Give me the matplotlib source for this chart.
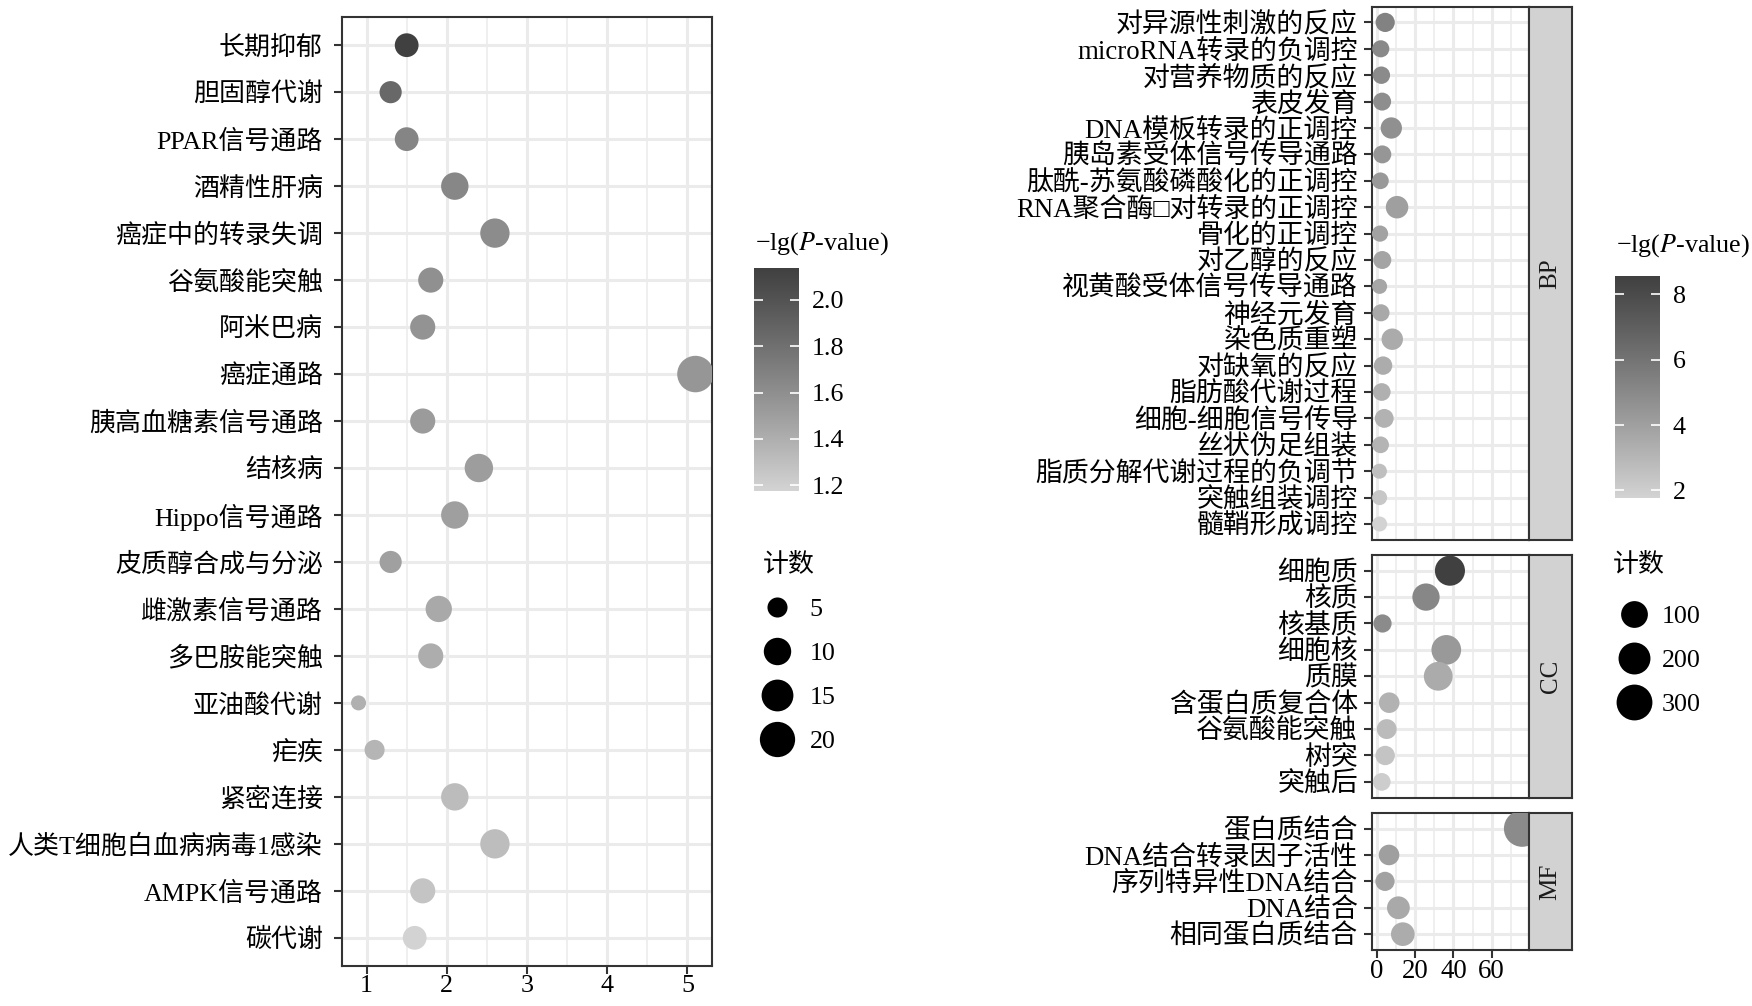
import numpy as np
import matplotlib
matplotlib.use("Agg")
import matplotlib.pyplot as plt
from matplotlib.colors import ListedColormap, Normalize
from matplotlib.cm import ScalarMappable
from matplotlib.lines import Line2D

plt.rcParams['font.family'] = ['Liberation Serif', 'Noto Sans CJK SC']
plt.rcParams['mathtext.fontset'] = 'stix'

W, H = 1752, 1006

# ---------------- KEGG (left) ----------------
kegg_terms = ["长期抑郁", "胆固醇代谢", "PPAR信号通路", "酒精性肝病", "癌症中的转录失调",
              "谷氨酸能突触", "阿米巴病", "癌症通路", "胰高血糖素信号通路", "结核病",
              "Hippo信号通路", "皮质醇合成与分泌", "雌激素信号通路", "多巴胺能突触", "亚油酸代谢",
              "疟疾", "紧密连接", "人类T细胞白血病病毒1感染", "AMPK信号通路", "碳代谢"]
kegg_x = [1.5, 1.3, 1.5, 2.1, 2.6, 1.8, 1.7, 5.1, 1.7, 2.4,
          2.1, 1.3, 1.9, 1.8, 0.9, 1.1, 2.1, 2.6, 1.7, 1.6]
kegg_count = [7, 6, 7, 10, 12, 8, 8, 22, 8, 11,
              10, 6, 9, 8, 4, 5, 10, 12, 8, 7]
kegg_lgp = [2.137, 1.85, 1.66, 1.65, 1.62, 1.59, 1.57, 1.55, 1.52, 1.51,
            1.50, 1.49, 1.43, 1.41, 1.39, 1.36, 1.32, 1.31, 1.27, 1.178]
kegg_size_legend = [5, 10, 15, 20]

# ---------------- GO (right) ----------------
bp_terms = ["对异源性刺激的反应", "microRNA转录的负调控", "对营养物质的反应", "表皮发育",
            "DNA模板转录的正调控", "胰岛素受体信号传导通路", "肽酰-苏氨酸磷酸化的正调控",
            "RNA聚合酶□对转录的正调控", "骨化的正调控", "对乙醇的反应", "视黄酸受体信号传导通路",
            "神经元发育", "染色质重塑", "对缺氧的反应", "脂肪酸代谢过程", "细胞-细胞信号传导",
            "丝状伪足组装", "脂质分解代谢过程的负调节", "突触组装调控", "髓鞘形成调控"]
bp_x = [4.4, 2.1, 2.4, 2.8, 7.6, 2.9, 1.9, 10.6, 1.7, 2.9,
        1.5, 2.2, 8.1, 3.3, 2.6, 3.9, 2.0, 1.4, 1.5, 1.5]
bp_count = [18, 9, 10, 12, 33, 12, 8, 44, 7, 12,
            6, 9, 34, 14, 11, 16, 8, 6, 6, 6]
bp_lgp = [5.3, 5.0, 4.9, 4.8, 4.7, 4.4, 4.3, 4.0, 3.9, 3.8,
          3.7, 3.6, 3.5, 3.45, 3.3, 3.2, 3.1, 2.6, 2.3, 1.77]

cc_terms = ["细胞质", "核质", "核基质", "细胞核", "质膜", "含蛋白质复合体", "谷氨酸能突触", "树突", "突触后"]
cc_x = [38.2, 25.7, 3.0, 36.3, 32.1, 6.5, 5.2, 4.4, 2.6]
cc_count = [160, 108, 13, 152, 135, 27, 22, 19, 11]
cc_lgp = [8.56, 5.1, 4.95, 4.3, 3.5, 3.2, 2.8, 2.4, 2.05]

mf_terms = ["蛋白质结合", "DNA结合转录因子活性", "序列特异性DNA结合", "DNA结合", "相同蛋白质结合"]
mf_x = [75.9, 6.4, 4.3, 11.3, 13.6]
mf_count = [319, 27, 18, 47, 57]
mf_lgp = [4.9, 4.0, 3.9, 3.6, 3.45]
go_size_legend = [100, 200, 300]

facets = [("BP", bp_terms, bp_x, bp_count, bp_lgp),
          ("CC", cc_terms, cc_x, cc_count, cc_lgp),
          ("MF", mf_terms, mf_x, mf_count, mf_lgp)]

GRID = '#ebebeb'
EDGE = '#333333'
TITLE = "\u2212lg($\\it{P}$-value)"


def grey_cmap():
    # grey ramp interpolated in L* like ggplot's gradient (lightgrey -> grey25)
    L = np.linspace(84.5, 27.1, 256)
    Y = ((L + 16) / 116) ** 3
    v = 1.055 * Y ** (1 / 2.4) - 0.055
    return ListedColormap(np.column_stack([v, v, v]))


CMAP = grey_cmap()


def dot_diam(c, cmin, cmax):
    c = np.asarray(c, dtype=float)
    return (15 + 21.5 * np.sqrt((c - cmin) / (cmax - cmin))) * 0.72  # points


def px_axes(fig, x0, y0, x1, y1):
    return fig.add_axes([x0 / W, 1 - y1 / H, (x1 - x0) / W, (y1 - y0) / H])


def expand(vals):
    lo, hi = min(vals), max(vals)
    pad = 0.05 * (hi - lo)
    return lo - pad, hi + pad


def dot_panel(ax, terms, x, count, lgp, norm, crange, xlim, major, minor, fs, ypad):
    y = np.arange(len(terms))
    d = dot_diam(count, *crange)
    ax.scatter(x, y, s=d ** 2, c=lgp, cmap=CMAP, norm=norm, linewidths=0, zorder=3)
    ax.set_yticks(y)
    ax.set_yticklabels(terms, fontsize=fs)
    ax.set_ylim(len(terms) - 0.4, -0.6)
    ax.set_xlim(xlim)
    ax.set_xticks(major)
    ax.set_xticks(minor, minor=True)
    ax.grid(which='major', color=GRID, lw=2.2)
    ax.grid(which='minor', axis='x', color=GRID, lw=1.1)
    ax.set_axisbelow(True)
    for s in ax.spines.values():
        s.set_color(EDGE)
        s.set_linewidth(1.5)
    ax.tick_params(which='major', length=5.5, width=1.5, color=EDGE, labelsize=fs)
    ax.tick_params(axis='y', pad=ypad)
    ax.tick_params(axis='x', pad=1)
    ax.tick_params(which='minor', length=0)


def color_legend(fig, norm, ticks, labels, box, title_y, fs):
    x0, y0, x1, y1 = box
    cax = px_axes(fig, x0, y0, x1, y1)
    cb = fig.colorbar(ScalarMappable(norm=norm, cmap=CMAP), cax=cax)
    cb.outline.set_visible(False)
    cb.set_ticks(ticks)
    cb.set_ticklabels(labels)
    cax.tick_params(length=0, pad=9, labelsize=fs)
    tr = cax.get_yaxis_transform()
    cax.hlines(ticks, 0, 0.2, transform=tr, colors='white', lw=1.2)
    cax.hlines(ticks, 0.8, 1, transform=tr, colors='white', lw=1.2)
    fig.text((x0 + 1) / W, 1 - title_y / H, TITLE, ha='left', va='center', fontsize=fs)


def size_legend(fig, vals, crange, x, title_x, title_y, top_y, fs, textpad):
    d = dot_diam(vals, *crange)
    handles = [Line2D([], [], ls='', marker='o', markersize=m, markerfacecolor='black',
                      markeredgewidth=0) for m in d]
    fig.text(title_x / W, 1 - title_y / H, "计数", ha='left', va='center', fontsize=fs)
    fig.legend(handles, [str(v) for v in vals], loc='upper left',
               bbox_to_anchor=(x / W, 1 - top_y / H), frameon=False, fontsize=fs,
               labelspacing=0.8, handlelength=1.35,
               handletextpad=textpad, borderpad=0, borderaxespad=0)


fig = plt.figure(figsize=(W / 100, H / 100), dpi=100)

# ---- left panel ----
kegg_norm = Normalize(min(kegg_lgp), max(kegg_lgp))
kegg_crange = (min(kegg_count), max(kegg_count))
ax = px_axes(fig, 341.7, 17, 712.3, 966)
dot_panel(ax, kegg_terms, kegg_x, kegg_count, kegg_lgp, kegg_norm, kegg_crange,
          expand(kegg_x), [1, 2, 3, 4, 5], [1.5, 2.5, 3.5, 4.5], 18.7, 8)
color_legend(fig, kegg_norm, [1.2, 1.4, 1.6, 1.8, 2.0], ["1.2", "1.4", "1.6", "1.8", "2.0"],
             (754.3, 268, 799.3, 490.5), 244, 18.7)
size_legend(fig, kegg_size_legend, kegg_crange, 759, 763, 565, 598, 18.7, 0.6)

# ---- right facets ----
all_lgp = bp_lgp + cc_lgp + mf_lgp
all_count = bp_count + cc_count + mf_count
go_norm = Normalize(min(all_lgp), max(all_lgp))
go_crange = (min(all_count), max(all_count))
go_xlim = expand(bp_x + cc_x + mf_x)

unit = 26.4
gap = 15
y = 950
spans = []
for name, terms, *_ in facets[::-1]:
    h = (len(terms) + 0.2) * unit
    spans.append((y - h, y))
    y = y - h - gap
spans = spans[::-1]

for (name, terms, x, count, lgp), (ya, yb) in zip(facets, spans):
    ax = px_axes(fig, 1372.3, ya, 1529.3, yb)
    dot_panel(ax, terms, x, count, lgp, go_norm, go_crange, go_xlim,
              [0, 20, 40, 60], [10, 30, 50, 70], 19.4, 5)
    if name != "MF":
        ax.tick_params(axis='x', which='both', bottom=False, labelbottom=False)
    sax = px_axes(fig, 1529.3, ya, 1571.7, yb)
    sax.set_facecolor('#d2d2d2')
    sax.set_xticks([])
    sax.set_yticks([])
    for s in sax.spines.values():
        s.set_color(EDGE)
        s.set_linewidth(1.5)
    sax.text(0.5, 0.5, name, rotation=90, ha='center', va='center',
             fontsize=18, color='#1a1a1a', transform=sax.transAxes)

color_legend(fig, go_norm, [2, 4, 6, 8], ["2", "4", "6", "8"],
             (1615, 276, 1660, 498), 246, 18.7)
size_legend(fig, go_size_legend, go_crange, 1616, 1613, 565, 605, 18.7, 0.4)

fig.savefig("out.png", dpi=100)
